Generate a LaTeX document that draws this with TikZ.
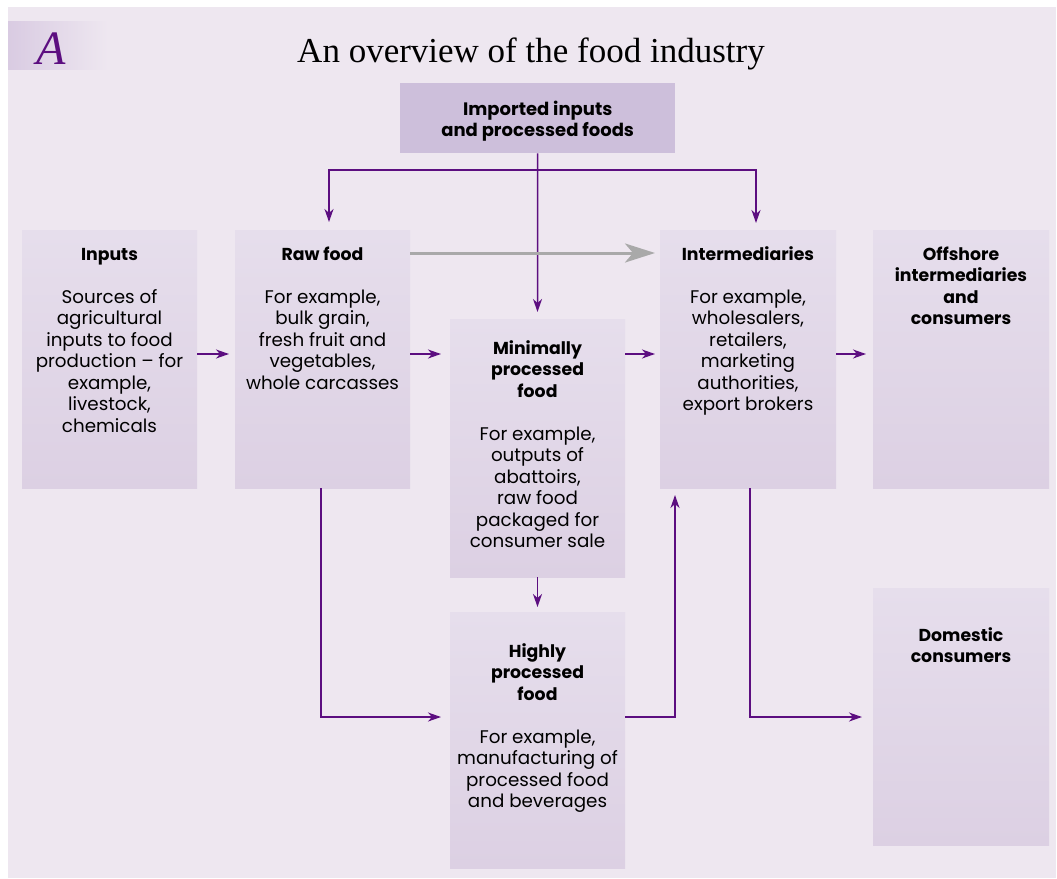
\documentclass[tikz,border=0pt]{standalone}
\usepackage{fontspec}
\setmainfont{Poppins}
\newfontfamily\serifx{Liberation Serif}
\usetikzlibrary{arrows.meta,calc}
\definecolor{bgc}{HTML}{EEE7F0}
\definecolor{boxtop}{HTML}{E6DEEC}
\definecolor{boxbot}{HTML}{DCD0E3}
\definecolor{impc}{HTML}{CDBFDB}
\definecolor{pline}{HTML}{5C0E80}
\definecolor{gline}{HTML}{A9A9A9}
\definecolor{abox}{HTML}{D9CBE2}
\newcommand{\blk}[2]{\parbox[t]{#1pt}{\centering\fontsize{18.3}{21.5}\selectfont #2}}
\newcommand{\hd}[1]{{\fontsize{17.3}{21.5}\selectfont\bfseries #1}}
\begin{document}
\begin{tikzpicture}[x=1pt,y=-1pt,
  panel/.style={inner sep=0, outer sep=0, anchor=north west, top color=boxtop, bottom color=boxbot, draw=none},
  lbl/.style={anchor=base, inner sep=0, outer sep=0},
  arr/.style={draw=pline, line width=1.5pt, -{Stealth[length=13pt,width=9pt,inset=4pt]}},
  arrb/.style={draw=pline, line width=1.5pt, {Stealth[length=13pt,width=9pt,inset=4pt]}-{Stealth[length=13pt,width=9pt,inset=4pt]}},
  garr/.style={draw=gline, line width=3pt, -{Stealth[length=30pt,width=19pt,inset=8pt]}}]
\useasboundingbox (0,0) rectangle (1057,878);
\fill[bgc] (8,7) rectangle (1056,878);
% A label
\node[inner sep=0, anchor=north west, minimum width=100pt, minimum height=48pt, left color=abox, right color=bgc] (abx) at (8,21) {};
\node[lbl, font=\serifx\itshape\fontsize{48}{48}\selectfont, text=pline] (alabel) at (51,64) {A};
\node[lbl, font=\serifx\fontsize{35}{35}\selectfont] (title) at (531,62) {An overview of the food industry};
% boxes
\node[inner sep=0, anchor=north west, fill=impc, minimum width=275pt, minimum height=70pt] (imported) at (400,83) {};
\node[panel, minimum width=175pt, minimum height=258pt] (inputs) at (22,230) {};
\node[panel, minimum width=175pt, minimum height=258pt] (raw) at (235,230) {};
\node[panel, minimum width=176pt, minimum height=258pt] (inter) at (660,230) {};
\node[panel, minimum width=176pt, minimum height=258pt] (off) at (873,230) {};
\node[panel, minimum width=175pt, minimum height=258pt] (minimal) at (450,319) {};
\node[panel, minimum width=175pt, minimum height=256pt] (high) at (450,612) {};
\node[panel, minimum width=176pt, minimum height=257pt] (dom) at (873,588) {};
% texts
\node[lbl] (timp) at (imported.north |- 0,115) {\blk{270}{{\fontsize{18}{21}\selectfont\bfseries Imported inputs\\and processed foods}}};
\node[lbl] (tinp) at (inputs.north |- 0,260) {\blk{175}{\hd{Inputs}\\[21.5pt]Sources of\\agricultural\\inputs to food\\production – for\\example,\\livestock,\\chemicals}};
\node[lbl] (traw) at (raw.north |- 0,260) {\blk{175}{\hd{Raw food}\\[21.5pt]For example,\\bulk grain,\\fresh fruit and\\vegetables,\\whole carcasses}};
\node[lbl] (tint) at (inter.north |- 0,260) {\blk{176}{\hd{Intermediaries}\\[21.5pt]For example,\\wholesalers,\\retailers,\\marketing\\authorities,\\export brokers}};
\node[lbl] (toff) at (off.north |- 0,260) {\blk{176}{\hd{Offshore}\\\hd{intermediaries}\\\hd{and}\\\hd{consumers}}};
\node[lbl] (tmin) at (minimal.north |- 0,354) {\blk{175}{\hd{Minimally}\\\hd{processed}\\\hd{food}\\[21.5pt]For example,\\outputs of\\abattoirs,\\raw food\\packaged for\\consumer sale}};
\node[lbl] (thi) at (high.north |- 0,657) {\blk{175}{\hd{Highly}\\\hd{processed}\\\hd{food}\\[21.5pt]For example,\\manufacturing of\\processed food\\and beverages}};
\node[lbl] (tdom) at (dom.north |- 0,641) {\blk{176}{\hd{Domestic}\\\hd{consumers}}};
% helper coordinates
\coordinate (rowG) at (0,253);
\coordinate (rowA) at (0,354);
\coordinate (rowC) at (0,717);
\coordinate (jL) at (329,170);
\coordinate (jR) at (756,170);
\coordinate (kx) at (675,0);
% connectors
\draw[arr] (imported.south) -- ($(minimal.north)+(0,-7)$);
\draw[arrb] ($(jL |- raw.north)+(0,-8)$) -- (jL) -- (jR) -- ($(jR |- inter.north)+(0,-7)$);
\draw[garr] (raw.east |- rowG) -- ($(inter.west |- rowG)+(-5,0)$);
\draw[arr] (inputs.east |- rowA) -- ($(raw.west |- rowA)+(-6,0)$);
\draw[arr] (raw.east |- rowA) -- ($(minimal.west |- rowA)+(-9,0)$);
\draw[arr] (minimal.east |- rowA) -- ($(inter.west |- rowA)+(-5,0)$);
\draw[arr] (inter.east |- rowA) -- ($(off.west |- rowA)+(-7,0)$);
\draw[arr] (minimal.south) -- ($(high.north)+(0,-5)$);
\draw[arr] ($(raw.south)+(-1.5,0)$) |- ($(high.west |- rowC)+(-9,0)$);
\draw[arr] (high.east |- rowC) -| ($(kx |- inter.south)+(0,7)$);
\draw[arr] ($(inter.south)+(2,0)$) |- ($(dom.west |- rowC)+(-11,0)$);
\end{tikzpicture}
\end{document}
